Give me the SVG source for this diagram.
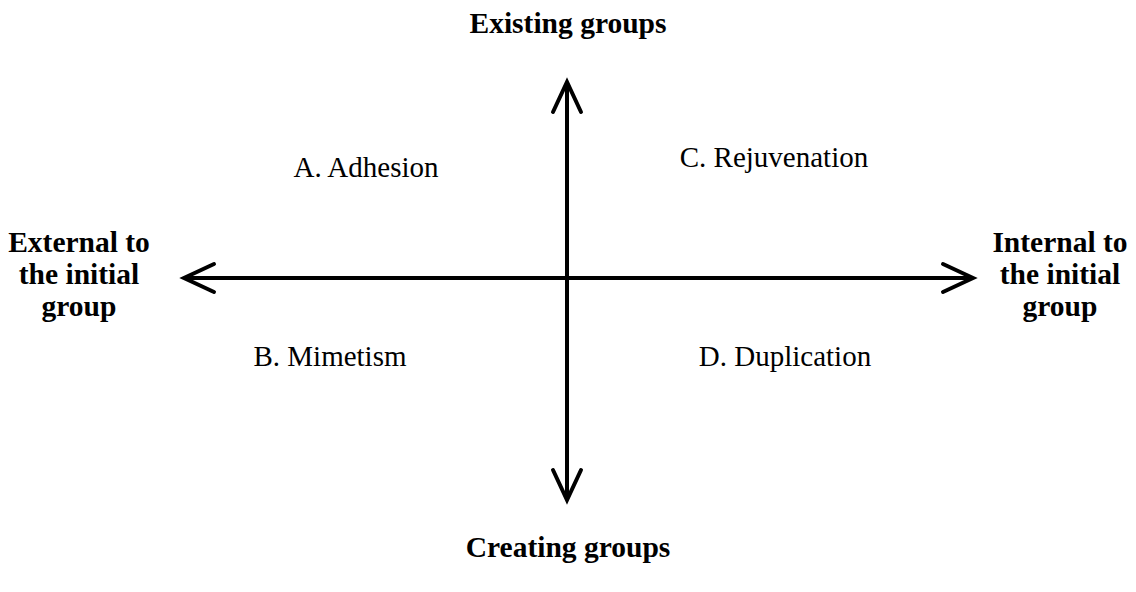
<svg xmlns="http://www.w3.org/2000/svg" width="1136" height="592" viewBox="0 0 1136 592">
  <style>
    .axis { stroke: #000; stroke-width: 4; fill: none; }
    .bold { font-family: "Liberation Serif", "Times New Roman", serif; font-weight: bold; font-size: 29.5px; fill: #000; text-anchor: middle; }
    .reg { font-family: "Liberation Serif", "Times New Roman", serif; font-size: 29px; fill: #000; text-anchor: middle; }
  </style>
  <defs>
    <marker id="chev" viewBox="-36 -20 42 40" refX="0" refY="0" markerWidth="42" markerHeight="40" markerUnits="userSpaceOnUse" orient="auto-start-reverse">
      <path d="M-30,-14 L0,0 L-30,14" stroke="#000" stroke-width="4" fill="none" stroke-linecap="round" stroke-linejoin="miter"/>
    </marker>
  </defs>
  <rect width="1136" height="592" fill="#fff"/>
  <g id="connectors">
    <path class="axis" d="M184,278 L973,278" marker-start="url(#chev)" marker-end="url(#chev)"/>
    <path class="axis" d="M567,82 L567,500" marker-start="url(#chev)" marker-end="url(#chev)"/>
  </g>
  <g id="top"><text class="bold" x="568" y="33">Existing groups</text></g>
  <g id="bottom"><text class="bold" x="568" y="557">Creating groups</text></g>
  <g id="left">
    <text class="bold" x="79" y="252">External to</text>
    <text class="bold" x="79" y="284">the initial</text>
    <text class="bold" x="79" y="316">group</text>
  </g>
  <g id="right">
    <text class="bold" x="1060" y="252">Internal to</text>
    <text class="bold" x="1060" y="284">the initial</text>
    <text class="bold" x="1060" y="316">group</text>
  </g>
  <g id="qA"><text class="reg" x="366" y="177">A. Adhesion</text></g>
  <g id="qC"><text class="reg" x="774" y="167">C. Rejuvenation</text></g>
  <g id="qB"><text class="reg" x="330" y="366">B. Mimetism</text></g>
  <g id="qD"><text class="reg" x="785" y="366">D. Duplication</text></g>
</svg>
